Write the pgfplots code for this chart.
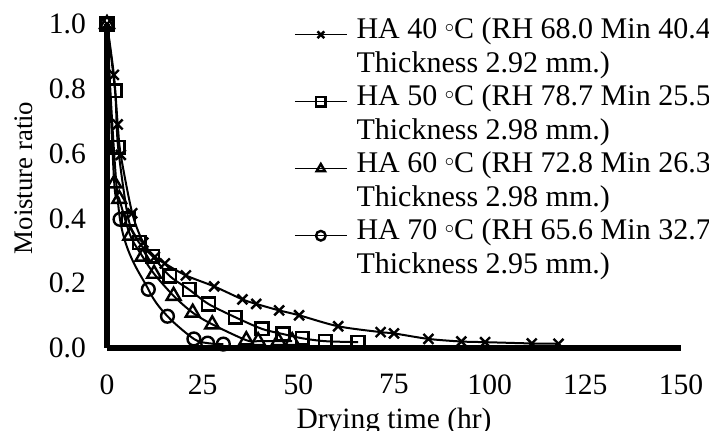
\documentclass[border=0pt]{standalone}
\usepackage{fontspec}
\setmainfont{Liberation Serif}
\usepackage{pgfplots}
\pgfplotsset{compat=1.18}
\newcommand{\dg}{{\raisebox{0.45ex}{\fontsize{9}{9}\selectfont$\circ$}}}
\begin{document}
\begin{tikzpicture}
\begin{axis}[
  scale only axis, width=287pt, height=162pt,
  xmin=0, xmax=150, ymin=0, ymax=1,
  clip=false,
  axis x line*=bottom, axis y line*=left,
  axis line style={line width=3pt, black},
  major tick length=0pt,
  xtick={0,25,50,75,100,125,150},
  ytick={0,0.2,0.4,0.6,0.8,1.0},
  /pgf/number format/assume math mode=true,
  tick label style={font=\fontsize{14.8}{16}\selectfont},
  y tick label style={/pgf/number format/.cd, fixed, fixed zerofill, precision=1, /tikz/.cd, anchor=east, xshift=-7pt},
  x tick label style={anchor=north, yshift=-9.7pt},
  xlabel={Drying time (hr)},
  xlabel style={at={(axis description cs:0.5,0)}, anchor=base, yshift=-40.5pt, font=\fontsize{14.75}{16}\selectfont},
  ylabel={Moisture ratio},
  ylabel style={at={(axis description cs:-0.1446,0.525)}, anchor=center, font=\fontsize{13.4}{15}\selectfont},
  every axis plot/.append style={black, line width=1pt, mark options={solid, line width=1.2pt}},
  legend style={at={(0.326,1.0185)}, anchor=north west, draw=none, fill=none, inner sep=0pt, outer sep=0pt, row sep=0pt, column sep=4.5pt, font=\fontsize{15}{16.75}\selectfont, nodes={inner sep=0pt, text height=10.5pt, text depth=6.25pt}},
  legend cell align=left,
  legend image code/.code={\draw[mark repeat=2,mark phase=2,#1] plot coordinates {(0pt,0pt) (13pt,0pt) (26pt,0pt)};},
  legend image post style={mark size=2.4pt, line width=0.7pt},
]
\addplot[smooth, mark=x, mark size=3.5pt] coordinates {
 (0,1) (1.8,0.843) (2.8,0.69) (3.6,0.596) (6.6,0.416) (9.5,0.325) (12.5,0.281) (15.1,0.261)
 (20.6,0.224) (28,0.19) (35.4,0.150) (39,0.136) (45,0.116) (50.2,0.101) (60.4,0.067)
 (71.5,0.049) (75,0.045) (84,0.028) (92.6,0.02) (98.8,0.018) (111,0.014) (118,0.013)};
\addlegendentry{HA 40 \dg C (RH 68.0 Min 40.4}
\addlegendimage{empty legend}
\addlegendentry{Thickness 2.92 mm.)}
\addplot[smooth, mark=square, mark size=3.2pt] coordinates {
 (0,1) (2.1,0.794) (2.9,0.62) (5.6,0.398) (8.4,0.325) (11.9,0.283) (16.4,0.222) (21.5,0.180)
 (26.5,0.136) (33.5,0.095) (40.5,0.059) (46,0.043) (51,0.030) (57,0.021) (65.6,0.018)};
\addlegendentry{HA 50 \dg C (RH 78.7 Min 25.5}
\addlegendimage{empty legend}
\addlegendentry{Thickness 2.98 mm.)}
\addplot[smooth, mark=triangle, mark size=4pt] coordinates {
 (0,1) (1.9,0.508) (3.2,0.46) (6.1,0.347) (9.3,0.282) (12.3,0.229) (17.4,0.161) (22.4,0.109)
 (27.5,0.073) (36.4,0.024) (39.5,0.021) (44.8,0.021) (48.4,0.021)};
\addlegendentry{HA 60 \dg C (RH 72.8 Min 26.3}
\addlegendimage{empty legend}
\addlegendentry{Thickness 2.98 mm.)}
\addplot[smooth, mark=o, mark size=3.2pt] coordinates {
 (0,1) (3.4,0.397) (10.8,0.181) (15.8,0.098) (22.7,0.028) (26.3,0.015) (30.4,0.012)};
\addlegendentry{HA 70 \dg C (RH 65.6 Min 32.7}
\addlegendimage{empty legend}
\addlegendentry{Thickness 2.95 mm.)}
\end{axis}
\pgfresetboundingbox
\path (-53.5pt,-41.5pt) rectangle (301pt,174pt);
\end{tikzpicture}
\end{document}
